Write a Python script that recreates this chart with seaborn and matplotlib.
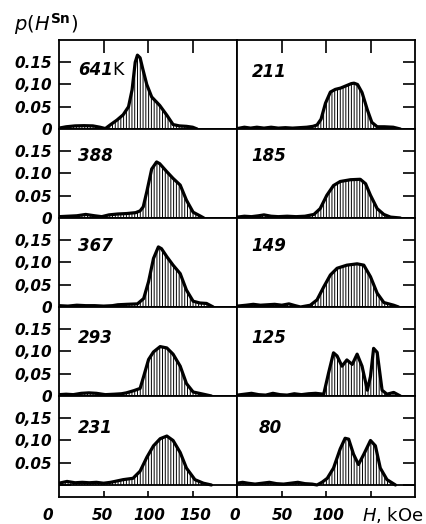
import matplotlib
matplotlib.use("Agg")
import matplotlib.pyplot as plt
import seaborn as sns

# ---------------- data (H in kOe, p(H) probability) ----------------
labels_T = ["641", "211", "388", "185", "367", "149", "293", "125", "231", "80"]

h_641 = [0, 8, 18, 28, 38, 46, 52, 58, 65, 72, 78, 82, 85.5, 88, 91, 94, 98.5, 104, 113, 121, 128, 135, 143, 150, 155]
p_641 = [0.002, 0.005, 0.007, 0.0075, 0.007, 0.004, 0.001, 0.010, 0.020, 0.032, 0.050, 0.088, 0.150, 0.166, 0.160, 0.135, 0.100, 0.072, 0.053, 0.031, 0.010, 0.007, 0.006, 0.004, 0.0]

h_211 = [0, 8, 15, 22, 30, 38, 46, 54, 62, 70, 78, 85, 89.5, 94, 99, 104.5, 110, 116, 122, 128, 131, 135, 140, 146, 151, 157, 165, 175, 183]
p_211 = [0.001, 0.004, 0.002, 0.004, 0.002, 0.004, 0.002, 0.003, 0.002, 0.003, 0.004, 0.006, 0.009, 0.022, 0.058, 0.083, 0.089, 0.092, 0.097, 0.102, 0.103, 0.100, 0.082, 0.043, 0.015, 0.005, 0.005, 0.004, 0.0]

h_388 = [0, 10, 20, 30, 40, 48, 56, 66, 76, 86, 91, 94.5, 98.5, 104, 109.5, 113, 121, 128, 136, 143, 150.5, 158, 162.5]
p_388 = [0.003, 0.004, 0.005, 0.008, 0.005, 0.003, 0.007, 0.009, 0.010, 0.012, 0.016, 0.025, 0.059, 0.110, 0.126, 0.122, 0.104, 0.089, 0.074, 0.040, 0.013, 0.005, 0.0]

h_185 = [0, 8, 16, 24, 30, 38, 46, 56, 66, 76, 86, 93, 100.5, 108, 115.5, 127, 138, 144, 149.5, 157, 164.5, 172, 183]
p_185 = [0.002, 0.004, 0.003, 0.005, 0.007, 0.004, 0.003, 0.004, 0.003, 0.004, 0.008, 0.021, 0.051, 0.073, 0.082, 0.086, 0.087, 0.077, 0.051, 0.021, 0.008, 0.002, 0.0]

h_367 = [0, 10, 20, 30, 40, 50, 60, 66, 76, 88, 95, 100.5, 106, 111.5, 115, 121, 128, 136, 143, 150.5, 158, 165.5, 173]
p_367 = [0.003, 0.002, 0.004, 0.003, 0.003, 0.002, 0.003, 0.005, 0.006, 0.007, 0.019, 0.057, 0.109, 0.135, 0.131, 0.113, 0.094, 0.075, 0.038, 0.013, 0.009, 0.008, 0.0]

h_149 = [0, 10, 18, 26, 34, 42, 50, 58, 65, 71, 82, 89.5, 97, 104.5, 112, 123, 134.5, 142, 149.5, 157, 164.5, 175.5, 181]
p_149 = [0.002, 0.004, 0.006, 0.004, 0.005, 0.006, 0.004, 0.007, 0.003, 0.0, 0.004, 0.016, 0.045, 0.072, 0.087, 0.094, 0.097, 0.094, 0.068, 0.031, 0.010, 0.004, 0.0]

h_293 = [0, 8, 16, 25, 33.5, 42, 52, 62, 70, 75.5, 84, 91, 95, 100.5, 106, 113.5, 121, 128, 136, 143, 150.5, 162, 171]
p_293 = [0.003, 0.004, 0.003, 0.006, 0.007, 0.006, 0.003, 0.004, 0.005, 0.007, 0.012, 0.017, 0.044, 0.082, 0.099, 0.111, 0.108, 0.094, 0.067, 0.028, 0.009, 0.004, 0.0]

h_125 = [0, 8, 16, 24, 32, 40, 48, 56, 64, 72, 80, 88, 97, 102.5, 108, 112, 117.5, 123, 129, 134.5, 140, 146, 149.5, 153, 157, 162.5, 168, 175.5, 183]
p_125 = [0.002, 0.004, 0.006, 0.003, 0.002, 0.006, 0.003, 0.002, 0.005, 0.003, 0.005, 0.006, 0.004, 0.052, 0.097, 0.090, 0.067, 0.081, 0.071, 0.094, 0.067, 0.013, 0.044, 0.107, 0.098, 0.013, 0.004, 0.008, 0.0]

h_231 = [0, 9, 18, 26, 34, 42, 50, 58, 65, 72, 83, 91, 98.5, 106, 113.5, 121, 128, 136, 143, 152.5, 162, 171]
p_231 = [0.004, 0.008, 0.005, 0.006, 0.005, 0.006, 0.004, 0.006, 0.009, 0.012, 0.015, 0.031, 0.062, 0.088, 0.104, 0.110, 0.100, 0.073, 0.038, 0.012, 0.004, 0.0]

h_80 = [0, 6, 12, 20, 28, 36, 44, 52, 60, 68, 76, 84, 89.5, 95, 101, 108, 115.5, 121, 125, 130.5, 136, 142, 149.5, 155, 160.5, 168, 177.5]
p_80 = [0.004, 0.006, 0.004, 0.002, 0.004, 0.006, 0.003, 0.002, 0.004, 0.006, 0.003, 0.002, 0.0, 0.006, 0.015, 0.038, 0.081, 0.105, 0.103, 0.069, 0.046, 0.069, 0.100, 0.088, 0.038, 0.012, 0.0]

series = [(h_641, p_641), (h_211, p_211), (h_388, p_388), (h_185, p_185),
          (h_367, p_367), (h_149, p_149), (h_293, p_293), (h_125, p_125),
          (h_231, p_231), (h_80, p_80)]

ytick_vals = [0, 0.05, 0.10, 0.15]
ytick_text = [["0", "0.05", "0,10", "0.15"],
              ["0", "0.05", "0.10", "0.15"],
              ["0", "0,05", "0,10", "0,15"],
              ["0", "0,05", "0,10", "0.15"],
              ["", "0.05", "0,10", "0,15"]]
xtick_vals = [50, 100, 150]

# ---------------- figure ----------------
sns.set_theme(style="white")
plt.rcParams["font.family"] = ["DejaVu Sans"]
plt.rcParams["hatch.linewidth"] = 0.7
plt.rcParams["hatch.color"] = "black"

W, H = 427, 524
fig = plt.figure(figsize=(W / 100, H / 100), dpi=100)
gs = fig.add_gridspec(5, 2, left=59 / W, right=415.5 / W, top=1 - 40 / H,
                      bottom=1 - 497 / H, hspace=0, wspace=0,
                      height_ratios=[0.2, 0.2, 0.2, 0.2, 0.227])

lab_y = [0.133, 0.140, 0.137, 0.131, 0.129]
fw = "bold"
for i in range(10):
    r, c = divmod(i, 2)
    ax = fig.add_subplot(gs[r, c])
    h, p = series[i]
    ax.fill_between(h, 0, p, facecolor="none", edgecolor="black",
                    hatch="||||||", linewidth=0)
    sns.lineplot(x=h, y=p, ax=ax, color="black", linewidth=2.3,
                 estimator=None, sort=False)
    ax.set_xlim(0, 200)
    ax.set_ylim(-0.027 if r == 4 else 0, 0.2)
    if r == 4:
        ax.axhline(0, color="black", linewidth=1.3)
    for s in ax.spines.values():
        s.set_color("black")
        s.set_linewidth(1.3)
    ax.tick_params(which="both", bottom=False, top=False, left=False,
                   right=False, labelbottom=False, labelleft=False,
                   labelright=False, labeltop=False, direction="in",
                   color="black", width=1.2)
    ax.set_xticks(xtick_vals)
    ax.set_yticks(ytick_vals)
    if c == 0:
        ax.tick_params(axis="y", left=True, labelleft=True, length=8.5, pad=5)
        ax.set_yticklabels(ytick_text[r], fontstyle="italic", fontsize=11,
                           fontweight=fw, color="black")
    else:
        ax.tick_params(axis="y", right=True, length=8.5)
    if r == 0:
        ax.tick_params(axis="x", top=True, length=9)
    if r == 4:
        ax.tick_params(axis="x", bottom=True, length=4)
    # panel label
    lx = 21 if c == 0 else (24 if i == 9 else 16)
    ly = 0.127 if i == 1 else lab_y[r]
    ax.text(lx, ly, labels_T[i], fontsize=12, fontstyle="italic",
            fontweight=fw, ha="left", va="center", color="black")
    if i == 0:
        ax.text(60, ly, "K", fontsize=12.5, ha="left", va="center",
                color="black")

# axis labels
fig.text(14 / W, 1 - 24 / H, r"$p(H^{\mathbf{Sn}})$", fontsize=14,
         ha="left", va="center", color="black")
ybot = 1 - 515 / H
for xp, t in [(48, "0"), (102, "50"), (149, "100"), (195, "150"),
              (235, "0"), (282, "50"), (328, "100")]:
    fig.text(xp / W, ybot, t, fontsize=11, fontstyle="italic",
             fontweight=fw, ha="center", va="center", color="black")
fig.text(362 / W, ybot, r"$H$, kOe", fontsize=13, ha="left", va="center",
         color="black")

fig.savefig("out.png", dpi=100)
